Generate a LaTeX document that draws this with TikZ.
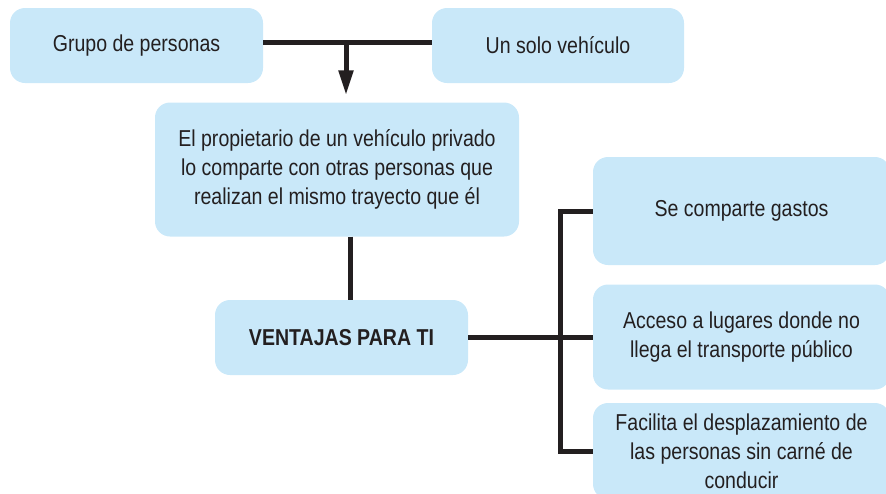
\documentclass[tikz,border=0pt]{standalone}
\usepackage{fontspec}
\setmainfont{Liberation Sans}[FakeStretch=0.85]
\usetikzlibrary{arrows.meta}
\definecolor{azulcaja}{HTML}{C9E8F9}
\definecolor{tinta}{HTML}{231F20}
\tikzset{
    caja/.style={fill=azulcaja, rounded corners=15pt, align=center, text=tinta,
        inner sep=0pt, font=\fontsize{23}{29}\selectfont},
    linea/.style={draw=tinta, line width=5pt}
}

\begin{document}
\begin{tikzpicture}[x=1pt,y=-1pt]
            \clip (0,0) rectangle (886,493);

            \node (grupo) at (136.5,45.5) [caja, minimum width=253pt, minimum height=75pt] {Grupo de personas};
            \node (vehiculo) at (558,45.5) [caja, minimum width=252pt, minimum height=75pt] {Un solo vehículo};
            \node (propietario) at (337,169.5) [caja, minimum width=364pt, minimum height=134pt]
                {El propietario de un vehículo privado\\lo comparte con otras personas que\\realizan el mismo trayecto que él};
            \node (ventajas) at (341.5,337.5) [caja, minimum width=253pt, minimum height=75pt, font=\fontsize{23}{29}\selectfont\bfseries] {VENTAJAS PARA TI};

            \node (gastos) at (741.5,211) [caja, minimum width=297pt, minimum height=108pt] {Se comparte gastos};
            \node (acceso) at (741.5,337) [caja, minimum width=297pt, minimum height=105pt]
                {Acceso a lugares donde no\\llega el transporte público};
            \node (facilita) at (741.5,451) [caja, minimum width=297pt, minimum height=96pt]
                {Facilita el desplazamiento de\\las personas sin carné de\\conducir};

            \coordinate (union) at (346,42);
            \coordinate (rama) at (560,337.5);

            % arriba
            \draw [linea] (grupo.east |- union) -- (vehiculo.west |- union);
            \draw [linea, -{Triangle[length=25pt,width=14pt]}, shorten >=7pt] (union) -- (union |- propietario.north);
            \draw [linea] ([xshift=13pt]propietario.south) -- ([xshift=13pt]propietario.south |- ventajas.north);

            % ventajas
            \draw [linea] (ventajas.east) -- (rama);
            \draw [linea] (gastos.west) -| (rama) |- (facilita.west);
            \draw [linea] (rama) -- (rama -| acceso.west);

        \end{tikzpicture}
\end{document}
